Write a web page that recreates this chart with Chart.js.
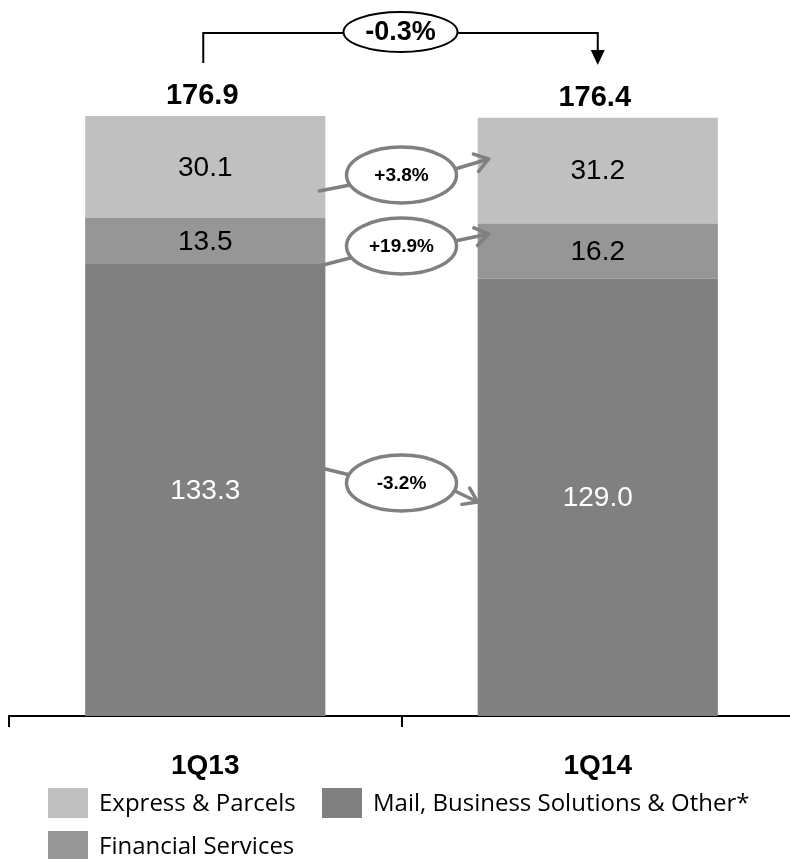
<!DOCTYPE html>
<html><head><meta charset="utf-8">
<style>html,body{margin:0;padding:0;background:#fff;overflow:hidden}#wrap{width:790px;height:859px;position:relative;overflow:hidden}</style>
<script src="https://cdn.jsdelivr.net/npm/chart.js@4"></script>
</head><body><div id="wrap"><canvas id="c" width="794" height="859"></canvas></div>
<script>
// ---- data ----
const categories = ['1Q13', '1Q14'];
const seriesNames = ['Mail, Business Solutions & Other*', 'Financial Services', 'Express & Parcels'];
const mailValues = [133.3, 129.0];
const financialValues = [13.5, 16.2];
const expressValues = [30.1, 31.2];
const totals = [176.9, 176.4];
const growthLabels = ['-3.2%', '+19.9%', '+3.8%']; // mail, financial, express
const totalGrowth = '-0.3%';
const legendOrder = [2, 0, 1];

// ---- styles ----
const FONT = '"Liberation Sans", Arial, sans-serif';
const LEGEND_FONT = '"Open Sans", "Liberation Sans", sans-serif';
const colors = ['#808080', '#969696', '#c0c0c0'];
const labelColors = ['#ffffff', '#000000', '#000000'];
const ARROW = '#808080';

const seriesValues = [mailValues, financialValues, expressValues];

const labelPlugin = {
  id: 'labels',
  afterDatasetsDraw(chart) {
    const ctx = chart.ctx;
    ctx.save();
    ctx.textAlign = 'center';
    ctx.textBaseline = 'middle';
    chart.data.datasets.forEach((ds, di) => {
      const meta = chart.getDatasetMeta(di);
      meta.data.forEach((bar, i) => {
        ctx.fillStyle = labelColors[di];
        ctx.font = '28px ' + FONT;
        ctx.fillText(ds.data[i].toFixed(1), bar.x, (bar.y + bar.base) / 2 + 1);
      });
    });
    const top = chart.getDatasetMeta(chart.data.datasets.length - 1);
    top.data.forEach((bar, i) => {
      ctx.fillStyle = '#000';
      ctx.font = 'bold 29px ' + FONT;
      ctx.fillText(totals[i].toFixed(1), bar.x - 3, bar.y - 20);
    });
    ctx.restore();
  },
  afterDraw(chart) {
    const ctx = chart.ctx;
    const m0 = chart.getDatasetMeta(0).data;
    const b1 = m0[0], b2 = m0[1];
    const r1 = b1.x + b1.width / 2;
    const l2 = b2.x - b2.width / 2;
    const mid = (r1 + l2) / 2;
    ctx.save();
    // top bracket
    const xa = b1.x - 2, xb = b2.x, yTop = 33;
    ctx.strokeStyle = '#000'; ctx.lineWidth = 2;
    ctx.beginPath();
    ctx.moveTo(xa, 63); ctx.lineTo(xa, yTop); ctx.lineTo(xb, yTop); ctx.lineTo(xb, 52);
    ctx.stroke();
    ctx.fillStyle = '#000';
    ctx.beginPath(); ctx.moveTo(xb - 7, 50); ctx.lineTo(xb + 7, 50); ctx.lineTo(xb, 65); ctx.closePath(); ctx.fill();
    ctx.beginPath(); ctx.ellipse(mid - 1, 32, 57, 20, 0, 0, Math.PI * 2);
    ctx.fillStyle = '#fff'; ctx.fill(); ctx.stroke();
    ctx.fillStyle = '#000'; ctx.font = 'bold 27px ' + FONT;
    ctx.textAlign = 'center'; ctx.textBaseline = 'middle';
    ctx.fillText(totalGrowth, mid - 1, 33);

    // growth arrows: [series index, left start, left end, right start, tip, ellipse y]
    const arrows = [
      [2, [r1 - 6, 191], [350, 185], [455, 169], [l2 + 11, 159], 175],
      [1, [r1 - 6, 266], [350, 258], [455, 241], [l2 + 11, 234], 246],
      [0, [r1, 469], [350, 475], [455, 491], [l2, 502], 483]
    ];
    ctx.strokeStyle = ARROW; ctx.lineWidth = 3.5; ctx.lineCap = 'round'; ctx.lineJoin = 'round';
    arrows.forEach(a => {
      const [si, s, e1, s2, tip, ey] = a;
      ctx.beginPath(); ctx.moveTo(s[0], s[1]); ctx.lineTo(e1[0], e1[1]); ctx.stroke();
      ctx.beginPath(); ctx.moveTo(s2[0], s2[1]); ctx.lineTo(tip[0], tip[1]); ctx.stroke();
      const ang = Math.atan2(tip[1] - s2[1], tip[0] - s2[0]);
      const L = 16, spread = 0.6;
      ctx.beginPath();
      ctx.moveTo(tip[0] - L * Math.cos(ang - spread), tip[1] - L * Math.sin(ang - spread));
      ctx.lineTo(tip[0], tip[1]);
      ctx.lineTo(tip[0] - L * Math.cos(ang + spread), tip[1] - L * Math.sin(ang + spread));
      ctx.stroke();
      ctx.beginPath(); ctx.ellipse(mid, ey, 55, 28, 0, 0, Math.PI * 2);
      ctx.fillStyle = '#fff'; ctx.fill(); ctx.stroke();
      ctx.fillStyle = '#000'; ctx.font = 'bold 19px ' + FONT;
      ctx.fillText(growthLabels[si], mid, ey + 1);
    });

    // legend
    const legendPos = [[48, 788], [322, 788], [48, 831]];
    ctx.font = '24px ' + LEGEND_FONT; ctx.textAlign = 'left'; ctx.textBaseline = 'middle';
    legendOrder.forEach((si, k) => {
      const [lx, ly] = legendPos[k];
      ctx.fillStyle = colors[si];
      ctx.fillRect(lx, ly, 40, 30);
      ctx.fillStyle = '#000';
      ctx.fillText(seriesNames[si], lx + 51, ly + 16);
    });
    ctx.restore();
  }
};

new Chart(document.getElementById('c'), {
  type: 'bar',
  data: {
    labels: categories,
    datasets: seriesNames.map((n, i) => ({
      label: n, data: seriesValues[i], backgroundColor: colors[i], borderWidth: 0,
      barPercentage: 0.612, categoryPercentage: 1
    }))
  },
  options: {
    responsive: false, devicePixelRatio: 1, animation: false,
    layout: { padding: { left: 9, right: 0, top: 0, bottom: 0 } },
    plugins: { legend: { display: false }, tooltip: { enabled: false } },
    scales: {
      x: {
        stacked: true, offset: true,
        grid: { display: true, offset: true, drawOnChartArea: false, drawTicks: true, tickLength: 11, color: '#000', lineWidth: 2 },
        border: { display: true, color: '#000', width: 2 },
        ticks: { color: '#000', padding: 22, font: { family: FONT, size: 28, weight: 'bold' } },
        afterFit: s => { s.height = 143; }
      },
      y: { stacked: true, display: false, min: 0, max: 211.1 }
    }
  },
  plugins: [labelPlugin]
});
</script>
</body></html>
